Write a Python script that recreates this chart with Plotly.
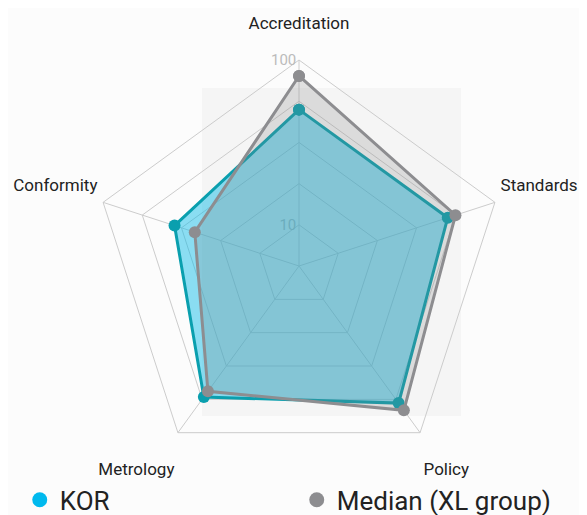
import plotly.graph_objects as go

# categories around the radar, clockwise from the top
categories = ["Accreditation", "Standards", "Policy", "Metrology", "Conformity"]

# scores (log radial axis)
kor = [50, 50, 60, 54, 35]
median_xl = [80, 56, 68, 49, 26]

# radial ticks
tick_vals = [10, 17.78, 31.62, 56.23, 100]
tick_text = ["10", "", "", "", "100"]

FONT = "Roboto"

def closed(v):
    return list(v) + [v[0]]

# push the upper labels up and the lower ones down a bit, like the original
cat_labels = [c + "<br> " for c in categories[:2]] + [" <br>" + c for c in categories[2:4]] + [categories[4] + "<br> "]

fig = go.Figure()

fig.add_trace(go.Scatterpolar(
    r=closed(kor), theta=closed(categories), name="KOR",
    mode="lines+markers", fill="toself",
    fillcolor="rgba(0,184,230,0.45)",
    line=dict(color="#0a9fae", width=3),
    marker=dict(color="#0a9fae", size=12),
    showlegend=False,
))
fig.add_trace(go.Scatterpolar(
    r=closed(median_xl), theta=closed(categories), name="Median (XL group)",
    mode="lines+markers", fill="toself",
    fillcolor="rgba(128,128,128,0.22)",
    line=dict(color="#8d8d90", width=3),
    marker=dict(color="#8d8d90", size=12),
    showlegend=False,
))

# legend entries (dots only, like the original)
fig.add_trace(go.Scatterpolar(r=[None], theta=[None], mode="markers", name="KOR",
                              marker=dict(color="#00b9ee", size=15)))
fig.add_trace(go.Scatterpolar(r=[None], theta=[None], mode="markers", name="Median (XL group)",
                              marker=dict(color="#8d8d90", size=15)))

fig.update_layout(
    width=587, height=515,
    margin=dict(l=0, r=0, t=0, b=0, autoexpand=False),
    paper_bgcolor="#fcfcfc",
    font=dict(family=FONT, color="#222"),
    polar=dict(
        domain=dict(x=[0.1448, 0.8467], y=[0.0990, 0.8990]),
        bgcolor="rgba(0,0,0,0)",
        gridshape="linear",
        radialaxis=dict(
            type="log", range=[0.75, 2], angle=90, tickangle=90,
            tickvals=tick_vals, ticktext=tick_text,
            tickfont=dict(size=15, color="#bbbbbb"),
            gridcolor="#cccccc", gridwidth=1,
            showline=False, ticks="", layer="below traces",
            side="counterclockwise",
        ),
        angularaxis=dict(
            direction="clockwise", rotation=90,
            tickvals=categories, ticktext=cat_labels,
            tickfont=dict(size=17, color="#222"),
            ticks="outside", ticklen=2, tickcolor="rgba(0,0,0,0)",
            gridcolor="#cccccc", linecolor="#cccccc", linewidth=1,
            layer="below traces",
        ),
    ),
    legend=dict(
        orientation="h", x=0.02, y=0.045, yanchor="middle",
        font=dict(size=26, color="#222"),
        entrywidth=232, entrywidthmode="pixels",
        bgcolor="rgba(0,0,0,0)",
    ),
    shapes=[dict(type="rect", xref="paper", yref="paper",
                 x0=0.3305, x1=0.7717, y0=0.2078, y1=0.8447,
                 fillcolor="#f5f5f5", line=dict(width=0), layer="below")],
)

fig.write_html("out.html")
